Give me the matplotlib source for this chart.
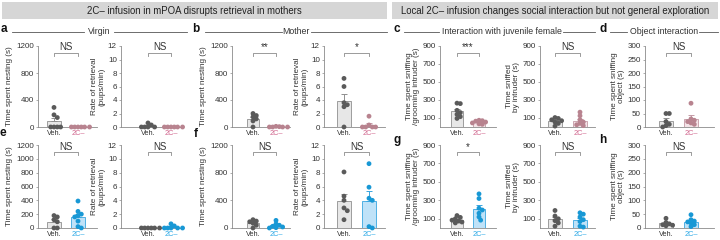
import numpy as np
import matplotlib
matplotlib.use("Agg")
import matplotlib.pyplot as plt
from matplotlib.patches import Rectangle
from matplotlib.lines import Line2D

plt.rcParams['font.family'] = ['Liberation Sans', 'DejaVu Sans']

W, H = 720, 240

# ---------------- data ----------------
groups = ["Veh.", "2C–"]

a_nest_veh = [290, 180, 140, 0, 0, 0, 0]
a_nest_2c = [0, 0, 0, 0, 0, 0]
a_retr_veh = [0.6, 0.3, 0, 0, 0, 0]
a_retr_2c = [0, 0, 0, 0, 0, 0]
b_nest_veh = [200, 170, 150, 120, 90, 0]
b_nest_2c = [10, 5, 0, 0, 0, 0]
b_retr_veh = [7.2, 6.0, 3.6, 3.3, 3.0, 0]
b_retr_2c = [1.6, 0.3, 0, 0, 0, 0]
c_sniff_veh = [265, 260, 185, 160, 140, 115, 95]
c_sniff_2c = [75, 70, 65, 55, 45, 35, 30]
c_sniffed_veh = [105, 95, 80, 70, 55, 40, 10]
c_sniffed_2c = [165, 125, 80, 55, 40, 25, 15]
d_obj_veh = [50, 50, 20, 10, 5, 0]
d_obj_2c = [88, 30, 25, 20, 15, 10]

e_nest_veh = [180, 160, 120, 90, 0, 0]
e_nest_2c = [390, 240, 200, 180, 160, 100, 20, 0]
e_retr_veh = [0, 0, 0, 0, 0, 0]
e_retr_2c = [0.6, 0.3, 0, 0, 0, 0, 0]
f_nest_veh = [120, 100, 90, 70, 40, 0]
f_nest_2c = [110, 60, 40, 25, 15, 5, 0]
f_retr_veh = [8.1, 4.6, 4.0, 2.9, 2.5, 1.2]
f_retr_2c = [9.3, 5.9, 4.3, 4.0, 0.2, 0]
g_sniff_veh = [135, 115, 100, 85, 75, 65, 55]
g_sniff_2c = [370, 320, 215, 195, 160, 120, 85]
g_sniffed_veh = [190, 130, 100, 80, 55, 20]
g_sniffed_2c = [165, 150, 120, 90, 70, 20, 10]
h_obj_veh = [35, 20, 15, 12, 10, 8]
h_obj_2c = [48, 30, 25, 22, 18, 12, 5]

sig_row1 = ["NS", "NS", "**", "*", "***", "NS", "NS"]
sig_row2 = ["NS", "NS", "NS", "NS", "*", "NS", "NS"]

nest_ticks_top = [0, 400, 800, 1200]
nest_ticks_e = [0, 200, 400, 600, 800, 1000, 1200]
retr_ticks = [0, 2, 4, 6, 8, 10, 12]
sniff_ticks = [100, 300, 500, 700, 900]
obj_ticks = [0, 50, 100, 150, 200, 250, 300]

lab_nest = "Time spent nesting (s)"
lab_retr = "Rate of retrieval\n(pups/min)"
lab_sniff = "Time spent sniffing\n/grooming intruder (s)"
lab_sniffed = "Time sniffed\nby intruder (s)"
lab_obj = "Time spent sniffing\nobject (s)"

header1 = "2C– infusion in mPOA disrupts retrieval in mothers"
header2 = "Local 2C– infusion changes social interaction but not general exploration"

# ---------------- style ----------------
VEH_DOT = '#5a5a5a'
VEH_FILL = '#e7e7e7'
VEH_EDGE = '#8f8f8f'
PINK_DOT = '#b8838f'
PINK_FILL = '#f4e4e8'
PINK_EDGE = '#c49aa6'
PINK_TXT = '#d0648c'
BLUE_DOT = '#1898d5'
BLUE_FILL = '#bfe2f8'
BLUE_EDGE = '#3aa6e0'
BLUE_TXT = '#2aa8e6'
AX_COL = '#8a8a8a'
TXT = '#333333'

# columns in pixel: (axis left, veh centre, 2C centre, axis right)
cols = [(38, 54, 78, 97), (121, 148, 171, 182), (232, 253, 276, 290),
        (324, 344, 369, 385), (440, 457, 479, 496), (540, 555, 580, 595),
        (645, 666, 691, 714)]
rows = [(46, 127), (145, 228)]

fig = plt.figure(figsize=(W / 100, H / 100), dpi=100)


def fx(x):
    return x / W


def fy(y):
    return 1 - y / H


def swarm(vals, ypx, xpx, diam=3.3):
    ys = np.asarray(vals, float) * ypx
    xs = np.zeros(len(ys))
    placed = []
    order = np.argsort(-ys, kind='stable')
    seq = [0]
    for k in range(1, 20):
        seq += [k, -k]
    for i in order:
        for k in seq:
            x = k * diam * 0.5
            if all((x - px) ** 2 + (ys[i] - py) ** 2 >= diam ** 2 for px, py in placed):
                break
        placed.append((x, ys[i]))
        xs[i] = x
    return xs / xpx


def panel(col, row, veh, c2, ymax, ticks, label, sig, rowidx):
    L, xv, xc, R = cols[col]
    T, B = rows[row]
    ax = fig.add_axes([fx(L), fy(B), (R - L) / W, (B - T) / H])
    unit = xc - xv
    ax.set_xlim((L - xv) / unit, (R - xv) / unit)
    ax.set_ylim(0, ymax)
    ypx = (B - T) / ymax
    dot2 = PINK_DOT if rowidx == 0 else BLUE_DOT
    fill2 = PINK_FILL if rowidx == 0 else BLUE_FILL
    edge2 = PINK_EDGE if rowidx == 0 else BLUE_EDGE
    txt2 = PINK_TXT if rowidx == 0 else BLUE_TXT
    for i, (vals, dc, fc, ec) in enumerate([(veh, VEH_DOT, VEH_FILL, VEH_EDGE),
                                            (c2, dot2, fill2, edge2)]):
        vals = np.asarray(vals, float)
        m = vals.mean()
        sem = vals.std(ddof=1) / np.sqrt(len(vals))
        ax.bar(i, m, width=0.55, color=fc, edgecolor=ec, linewidth=0.6, zorder=2)
        if sem > 0:
            ax.errorbar(i, m, yerr=[[0], [sem]], color=ec, lw=0.7, capsize=2.2,
                        capthick=0.7, zorder=2.5)
        offs = swarm(vals, ypx, unit)
        ax.scatter(i + offs, vals, s=12, color=dc, edgecolors='none', zorder=3,
                   clip_on=False)
    # bracket
    yb = ymax * 0.915
    dy = ymax * 0.035
    ax.plot([0, 0, 1, 1], [yb - dy, yb, yb, yb - dy], color=AX_COL, lw=0.6,
            clip_on=False)
    ax.text(0.5, yb + ymax * 0.005, sig, ha='center', va='bottom', fontsize=7,
            color=TXT, clip_on=False)
    ax.set_yticks(ticks)
    ax.set_xticks([0, 1])
    ax.set_xticklabels(groups, fontsize=5.3)
    ax.get_xticklabels()[0].set_color(TXT)
    ax.get_xticklabels()[1].set_color(txt2)
    for s in ['top', 'right']:
        ax.spines[s].set_visible(False)
    for s in ['left', 'bottom']:
        ax.spines[s].set_color(AX_COL)
        ax.spines[s].set_linewidth(0.6)
    ax.tick_params(axis='y', length=1.5, width=0.5, pad=1.5, labelsize=5.8,
                   colors=AX_COL, labelcolor=TXT)
    ax.tick_params(axis='x', length=0, pad=2.5)
    ax.set_ylabel(label, fontsize=5.9, color=TXT, labelpad=2, linespacing=1.0)
    ax.patch.set_alpha(0)
    return ax


# row 1
panel(0, 0, a_nest_veh, a_nest_2c, 1200, nest_ticks_top, lab_nest, sig_row1[0], 0)
panel(1, 0, a_retr_veh, a_retr_2c, 12, retr_ticks, lab_retr, sig_row1[1], 0)
panel(2, 0, b_nest_veh, b_nest_2c, 1200, nest_ticks_top, lab_nest, sig_row1[2], 0)
panel(3, 0, b_retr_veh, b_retr_2c, 12, retr_ticks, lab_retr, sig_row1[3], 0)
panel(4, 0, c_sniff_veh, c_sniff_2c, 900, sniff_ticks, lab_sniff, sig_row1[4], 0)
panel(5, 0, c_sniffed_veh, c_sniffed_2c, 900, sniff_ticks, lab_sniffed, sig_row1[5], 0)
panel(6, 0, d_obj_veh, d_obj_2c, 300, obj_ticks, lab_obj, sig_row1[6], 0)
# row 2
panel(0, 1, e_nest_veh, e_nest_2c, 1200, nest_ticks_e, lab_nest, sig_row2[0], 1)
panel(1, 1, e_retr_veh, e_retr_2c, 12, retr_ticks, lab_retr, sig_row2[1], 1)
panel(2, 1, f_nest_veh, f_nest_2c, 1200, nest_ticks_top, lab_nest, sig_row2[2], 1)
panel(3, 1, f_retr_veh, f_retr_2c, 12, retr_ticks, lab_retr, sig_row2[3], 1)
panel(4, 1, g_sniff_veh, g_sniff_2c, 900, sniff_ticks, lab_sniff, sig_row2[4], 1)
panel(5, 1, g_sniffed_veh, g_sniffed_2c, 900, sniff_ticks, lab_sniffed, sig_row2[5], 1)
panel(6, 1, h_obj_veh, h_obj_2c, 300, obj_ticks, lab_obj, sig_row2[6], 1)

# header bars
for (x0, x1, txt) in [(2, 387, header1), (392, 718, header2)]:
    fig.patches.append(Rectangle((fx(x0), fy(19)), (x1 - x0) / W, 17 / H,
                                 transform=fig.transFigure, facecolor='#d6d6d6',
                                 edgecolor='none', zorder=0))
    fig.text(fx((x0 + x1) / 2), fy(10.5), txt, ha='center', va='center',
             fontsize=6.9, color='#222222')

# sub-headers
LINE_Y = 32
segs = [(12, 84), (114, 187), (205, 282), (311, 387), (404, 439), (563, 595),
        (610, 627), (699, 718)]
for x0, x1 in segs:
    fig.add_artist(Line2D([fx(x0), fx(x1)], [fy(LINE_Y), fy(LINE_Y)],
                          transform=fig.transFigure, color='#555555', lw=0.6))
for x, t in [(99, "Virgin"), (296, "Mother"), (502, "Interaction with juvenile female"),
             (664, "Object interaction")]:
    fig.text(fx(x), fy(LINE_Y), t, ha='center', va='center', fontsize=6.3, color=TXT)

for x, y, t in [(4, 29, 'a'), (196, 29, 'b'), (397, 29, 'c'), (603, 29, 'd'),
                (3, 133, 'e'), (196, 134, 'f'), (397, 140, 'g'), (603, 140, 'h')]:
    fig.text(fx(x), fy(y), t, ha='center', va='center', fontsize=8.5,
             fontweight='bold', color='#111111')

fig.savefig('out.png', dpi=100)
